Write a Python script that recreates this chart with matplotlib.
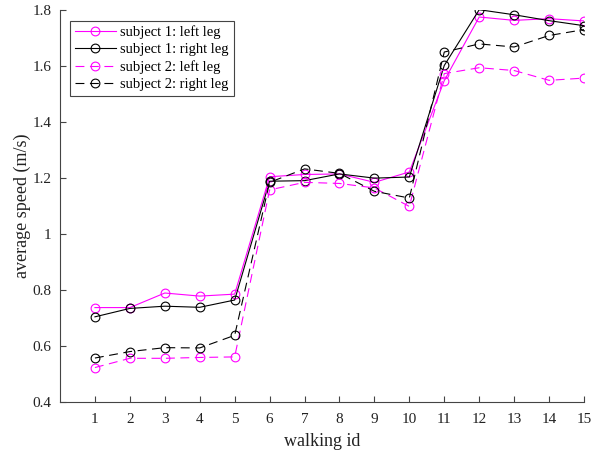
import matplotlib
matplotlib.use("Agg")
import matplotlib.pyplot as plt

# -------- DATA ------------------------------------------------------
walking_id = list(range(1, 16))
s1_left = [0.738, 0.738, 0.790, 0.779, 0.786, 1.205, 1.213, 1.215, 1.185, 1.222,
           1.548, 1.775, 1.763, 1.769, 1.761]
s1_right = [0.705, 0.735, 0.743, 0.739, 0.765, 1.189, 1.191, 1.215, 1.200, 1.204,
            1.602, 1.801, 1.783, 1.762, 1.744]
s2_left = [0.524, 0.557, 0.557, 0.560, 0.562, 1.158, 1.185, 1.181, 1.165, 1.099,
           1.573, 1.594, 1.584, 1.549, 1.557]
s2_right = [0.558, 0.581, 0.595, 0.594, 0.639, 1.185, 1.233, 1.217, 1.153, 1.129,
            1.650, 1.679, 1.668, 1.709, 1.730]
y_ticks = [0.4, 0.6, 0.8, 1.0, 1.2, 1.4, 1.6, 1.8]
y_labels = ["0.4", "0.6", "0.8", "1", "1.2", "1.4", "1.6", "1.8"]
# --------------------------------------------------------------------

plt.rcParams["font.family"] = ["Liberation Serif", "DejaVu Serif"]

MAGENTA = "#ff00ff"
DASH = (0, (8, 5))

fig = plt.figure(figsize=(6.02, 4.54), dpi=100)
ax = fig.add_axes([60 / 602, 1 - 402.3 / 454, 524 / 602, 392.3 / 454])

common = dict(marker="o", markersize=6.3, markerfacecolor="none", linewidth=0.8,
              markeredgewidth=0.8)
ax.plot(walking_id, s1_left, color=MAGENTA, linestyle="-", label="subject 1: left leg", **common)
ax.plot(walking_id, s1_right, color="black", linestyle="-", label="subject 1: right leg", **common)
ax.plot(walking_id, s2_left, color=MAGENTA, linestyle=DASH, label="subject 2: left leg", **common)
ax.plot(walking_id, s2_right, color="black", linestyle=DASH, label="subject 2: right leg", **common)

ax.set_xlim(0, 15)
ax.set_ylim(0.4, 1.8)
ax.set_xticks(walking_id)
ax.set_yticks(y_ticks)
ax.set_yticklabels(y_labels)

for side in ("top", "right"):
    ax.spines[side].set_visible(False)
for side in ("left", "bottom"):
    ax.spines[side].set_color("#444444")
    ax.spines[side].set_linewidth(0.8)
ax.tick_params(direction="in", length=4, width=0.8, color="#444444",
               labelsize=11, labelcolor="#222222")
ax.tick_params(axis="x", pad=8)
ax.tick_params(axis="y", pad=6)

ax.set_xlabel("walking id", fontsize=13, color="#222222", labelpad=5)
ax.set_ylabel("average speed (m/s)", fontsize=13, color="#222222", labelpad=1)

leg = ax.legend(loc="upper left", bbox_to_anchor=(0.019, 0.973), fontsize=10.5,
                fancybox=False, edgecolor="#444444", framealpha=1,
                handlelength=2.8, borderpad=0.35, labelspacing=0.25,
                handletextpad=0.3, borderaxespad=0)
leg.get_frame().set_linewidth(0.8)

fig.savefig("out.png", dpi=100)
